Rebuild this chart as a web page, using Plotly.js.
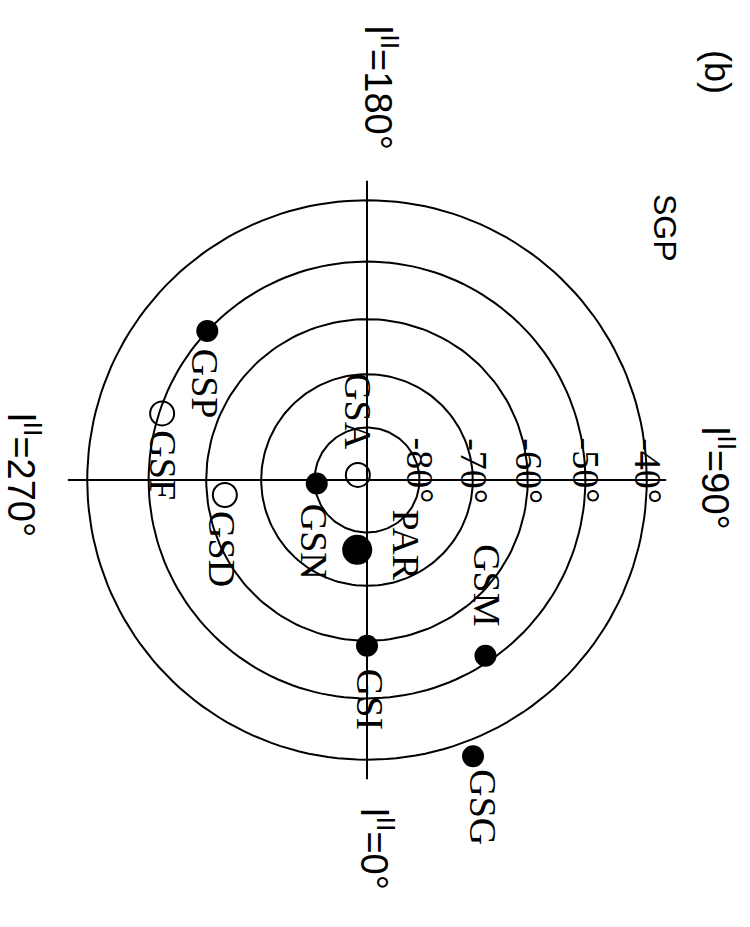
<!DOCTYPE html>
<html><head><meta charset="utf-8">
<script src="https://cdn.plot.ly/plotly-3.0.1.min.js"></script>
<style>html,body{margin:0;padding:0;background:#fff}</style>
</head><body><div id="chart" style="width:750px;height:927px"></div>
<script>
// ---- data (galactic coordinates, south galactic pole view) ----
const sourceNames = ['GSA', 'PAR', 'GSN', 'GSI', 'GSM', 'GSG', 'GSD', 'GSF', 'GSP'];
const sourceLon   = [241, 352, 274, 0, 34, 21, 276, 252, 227];
const sourceLat   = [-88.0, -76.6, -80.4, -59.1, -51.1, -37.5, -63.2, -50.5, -50.0];
const sourceKind  = ['open', 'big', 'filled', 'filled', 'filled', 'filled', 'open', 'open', 'filled'];
const parallels   = [-80, -70, -60, -50, -40];
const parallelLabels = ['-80°', '-70°', '-60°', '-50°', '-40°'];
const meridians   = [0, 90, 180, 270];
const meridianLabels = ['l<sup>II</sup>=0°', 'l<sup>II</sup>=90°', 'l<sup>II</sup>=180°', 'l<sup>II</sup>=270°'];
const meridianEndLat = -37;
const poleLabel = 'SGP';
const panelLabel = '(b)';

// ---- projection (stereographic about the south galactic pole) ----
const D = Math.PI / 180;
function proj(l, b) {
  const r = Math.tan((90 + b) / 2 * D);
  return [r * Math.sin(l * D), -r * Math.cos(l * D)];
}

// ---- styles / layout helpers ----
const PX = 600; // pixels per projection unit
const W = 750, H = 927, CX = 367, CY = 480;
const labelShift = { // pixel offsets of labels from their points (x right, y down)
  GSA: [0, -63], PAR: [49, -5], GSN: [-2, 58], GSI: [3, 53], GSM: [2, -70],
  GSG: [10, 51], GSD: [-3, 54], GSF: [0, 52], GSP: [-2, 53]
};
// [xshift, yshift(up)] for the l labels, relative to meridian ends
const meridianShift = [[10, -70], [52, 2], [14, 93], [-44, 5]];
const lineStyle = {color: '#000', width: 2};
const serif = 'Liberation Serif, Times New Roman, serif';
const sans = 'Liberation Sans, Arial, sans-serif';

const traces = [];
parallels.forEach(b => {
  const xs = [], ys = [];
  for (let l = 0; l <= 360; l += 2) { const p = proj(l, b); xs.push(p[0]); ys.push(p[1]); }
  traces.push({type: 'scatter', mode: 'lines', x: xs, y: ys, line: lineStyle, hoverinfo: 'skip', showlegend: false});
});
meridians.forEach(l => {
  const a = proj(l, -90), e = proj(l, meridianEndLat);
  traces.push({type: 'scatter', mode: 'lines', x: [a[0], e[0]], y: [a[1], e[1]], line: lineStyle, hoverinfo: 'skip', showlegend: false});
});
const markerStyle = {
  filled: {symbol: 'circle', size: 22, color: '#000', line: {width: 0}},
  big:    {symbol: 'circle', size: 30, color: '#000', line: {width: 0}},
  open:   {symbol: 'circle-open', size: 24, color: '#000', line: {width: 2}}
};
['filled', 'big', 'open'].forEach(kind => {
  const xs = [], ys = [], tx = [];
  sourceNames.forEach((n, i) => {
    if (sourceKind[i] !== kind) return;
    const p = proj(sourceLon[i], sourceLat[i]);
    xs.push(p[0]); ys.push(p[1]); tx.push(n);
  });
  traces.push({type: 'scatter', mode: 'markers', x: xs, y: ys, text: tx, marker: markerStyle[kind], showlegend: false, hoverinfo: 'text'});
});

const annotations = [];
const base = {showarrow: false, textangle: 90, xanchor: 'center', yanchor: 'middle'};
sourceNames.forEach((n, i) => {
  const p = proj(sourceLon[i], sourceLat[i]);
  const s = labelShift[n];
  annotations.push(Object.assign({}, base, {x: p[0], y: p[1], xref: 'x', yref: 'y', text: n,
    xshift: s[0], yshift: -s[1], font: {family: serif, size: 38, color: '#000'}}));
});
parallels.forEach((b, i) => {
  const p = proj(90, b);
  annotations.push(Object.assign({}, base, {x: p[0], y: p[1], xref: 'x', yref: 'y', text: parallelLabels[i],
    xshift: 1, yshift: 9, font: {family: serif, size: 38, color: '#000'}}));
});
meridians.forEach((l, i) => {
  const p = proj(l, meridianEndLat);
  const s = meridianShift[i];
  annotations.push(Object.assign({}, base, {x: p[0], y: p[1], xref: 'x', yref: 'y', text: meridianLabels[i],
    xshift: s[0], yshift: s[1], font: {family: sans, size: 38, color: '#000'}}));
});
annotations.push(Object.assign({}, base, {x: 665 / W, y: 1 - 228 / H, xref: 'paper', yref: 'paper', text: poleLabel,
  font: {family: sans, size: 32, color: '#000'}}));
annotations.push(Object.assign({}, base, {x: 717 / W, y: 1 - 72 / H, xref: 'paper', yref: 'paper', text: panelLabel,
  font: {family: sans, size: 36, color: '#000'}}));

const layout = {
  width: W, height: H,
  margin: {l: 0, r: 0, t: 0, b: 0},
  paper_bgcolor: '#fff', plot_bgcolor: '#fff',
  xaxis: {range: [-CX / PX, (W - CX) / PX], visible: false, fixedrange: true},
  yaxis: {range: [-(H - CY) / PX, CY / PX], visible: false, fixedrange: true},
  annotations: annotations,
  showlegend: false
};
Plotly.newPlot('chart', traces, layout, {staticPlot: true, displayModeBar: false});
</script>
</body></html>
